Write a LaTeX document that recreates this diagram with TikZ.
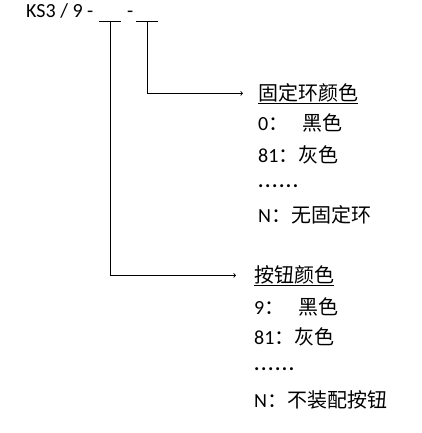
\documentclass[tikz,border=0pt]{standalone}
\usepackage{fontspec}
\setmainfont{Carlito}
\newfontfamily\cjk{Noto Sans CJK SC}
\usetikzlibrary{arrows,positioning}
\newcommand{\zh}[1]{{\cjk #1}}
\newcommand{\dotrow}{\textbf{.\kern1.6pt.\kern1.6pt.\kern1.6pt.\kern1.6pt.\kern1.6pt.}}

\begin{document}
\begin{tikzpicture}[x=1pt,y=-1pt,
  txt/.style={anchor=base west,inner sep=0pt,font=\fontsize{20}{24}\selectfont},
  blank/.style={minimum width=21pt,minimum height=0pt,inner sep=0pt},
  lead/.style={draw,line width=0.8pt,->}]
\useasboundingbox (0,0) rectangle (421,433);
% model code
\node[txt] (code) at (26,18) {KS3 / 9 -};
\node[txt] (dash) at (127,18) {-};
\node[blank] (btnslot) at (110,21) {};
\node[blank] (ringslot) at (147,21) {};
\draw[line width=0.8pt] (btnslot.west) -- (btnslot.east);
\draw[line width=0.8pt] (ringslot.west) -- (ringslot.east);
% fixing ring colour
\node[txt] (ring) at (258,100) {\underline{\zh{固定环颜色}}};
\node[txt] (ring0) at (258,130) {0\zh{：}\hspace{14pt}\zh{黑色}};
\node[txt] (ring81) at (258,162) {81\zh{：灰色}};
\node[txt] (ringdots) at (258,187) {\dotrow};
\node[txt] (ringN) at (258,222) {N\zh{：无固定环}};
% button colour
\node[txt] (btn) at (254,282) {\underline{\zh{按钮颜色}}};
\node[txt] (btn9) at (254,314) {9\zh{：}\hspace{14pt}\zh{黑色}};
\node[txt] (btn81) at (254,344) {81\zh{：灰色}};
\node[txt] (btndots) at (254,370) {\dotrow};
\node[txt] (btnN) at (254,407) {N\zh{：不装配按钮}};
% leaders
\draw[lead,shorten >=15pt] (ringslot) |- (ring.west);
\draw[lead,shorten >=18pt] (btnslot) |- (btn.west);
\end{tikzpicture}
\end{document}
